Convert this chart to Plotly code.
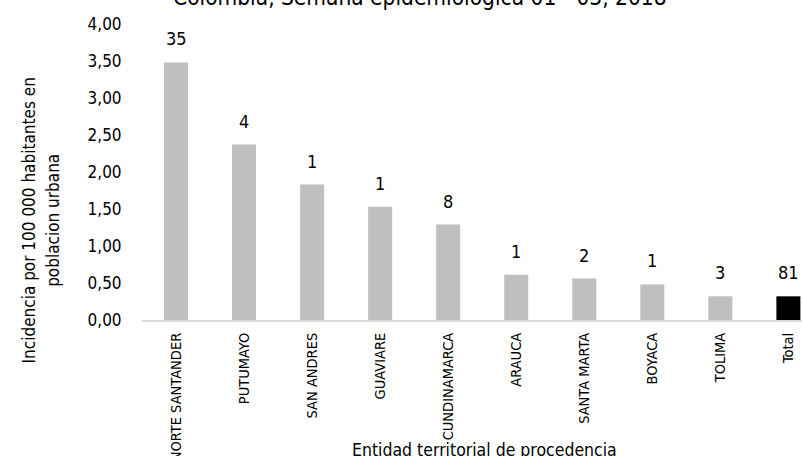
import plotly.graph_objects as go

# Entidad territorial de procedencia
categories = ["NORTE SANTANDER", "PUTUMAYO", "SAN ANDRES", "GUAVIARE", "CUNDINAMARCA",
              "ARAUCA", "SANTA MARTA", "BOYACA", "TOLIMA", "Total"]
# Incidencia por 100 000 habitantes en poblacion urbana
incidence = [3.48, 2.37, 1.83, 1.53, 1.29, 0.61, 0.56, 0.48, 0.32, 0.32]
# Casos notificados
cases = [35, 4, 1, 1, 8, 1, 2, 1, 3, 81]

y_ticks = [0, 0.5, 1, 1.5, 2, 2.5, 3, 3.5, 4]

FONT = "DejaVu Sans Condensed, Liberation Sans, Arial, sans-serif"
bar_colors = ["#bfbfbf"] * (len(categories) - 1) + ["#000000"]

fig = go.Figure()
fig.add_trace(go.Bar(
    x=categories,
    y=incidence,
    marker=dict(color=bar_colors, line=dict(width=0)),
    hoverinfo="skip",
))

annotations = []
for cat, val, n in zip(categories, incidence, cases):
    annotations.append(dict(
        x=cat, y=val, xref="x", yref="y", text=str(n), showarrow=False,
        yanchor="bottom", yshift=11, font=dict(family=FONT, size=18, color="#000000"),
    ))

annotations.append(dict(
    text="Colombia, Semana epidemiológica 01 - 03, 2018",
    xref="paper", yref="paper", x=0.421, y=1.0, yanchor="bottom", yshift=12,
    showarrow=False, font=dict(family=FONT, size=22.5, color="#000000"),
))
annotations.append(dict(
    text="Entidad territorial de procedencia",
    xref="paper", yref="paper", x=0.519, y=-0.44, yanchor="middle",
    showarrow=False, font=dict(family=FONT, size=17.5, color="#000000"),
))
# two-line y-axis title, one annotation per line
y_title_lines = ["Incidencia por 100 000 habitantes en", "poblacion urbana"]
for line, xpos in zip(y_title_lines, [-0.172, -0.135]):
    annotations.append(dict(
        text=line, xref="paper", yref="paper", x=xpos, y=0.338,
        xanchor="center", yanchor="middle", textangle=-90, showarrow=False,
        font=dict(family=FONT, size=17, color="#000000"),
    ))

fig.update_layout(
    width=802, height=456,
    margin=dict(l=142, r=0, t=24, b=136, pad=0),
    paper_bgcolor="#ffffff", plot_bgcolor="#ffffff",
    separators=",.",
    bargap=0.647,
    showlegend=False,
    annotations=annotations,
    font=dict(family=FONT, color="#000000"),
)
fig.update_xaxes(
    type="category", range=[-0.5, 9.2], automargin=False,
    showline=True, linecolor="#d9d9d9", linewidth=2,
    showgrid=False, zeroline=False,
    tickangle=-90, ticks="outside", ticklen=5, tickcolor="rgba(0,0,0,0)",
    tickfont=dict(family=FONT, size=14.5, color="#000000"),
)
fig.update_yaxes(
    range=[0, 4], tickvals=y_ticks, tickformat=".2f", automargin=False,
    showline=False, showgrid=False, zeroline=False,
    ticks="outside", ticklen=16, tickcolor="rgba(0,0,0,0)",
    tickfont=dict(family=FONT, size=17, color="#000000"),
)

fig.write_html("out.html")
